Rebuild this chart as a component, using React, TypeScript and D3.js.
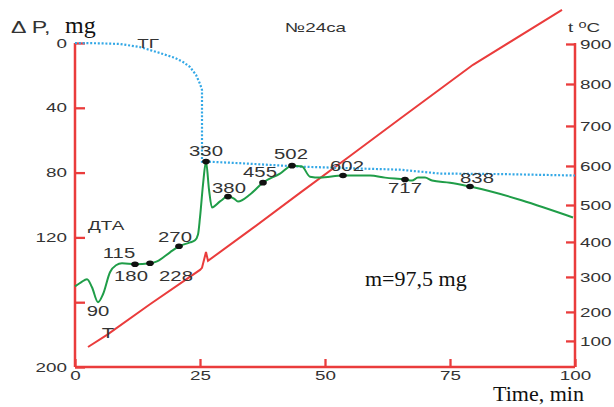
import React, { useRef, useEffect } from "react";
import * as d3 from "d3";

// axes
const timeTicks = [0, 25, 50, 75, 100];
const massTicks = [0, 40, 80, 120, 160, 200];
const tempTicks = [100, 200, 300, 400, 500, 600, 700, 800, 900];
// the t°C axis of the original is not linear: where each tick sits, in mg units of the left axis
const tempTickAt = [183.9, 166, 144.4, 122.8, 100, 75.9, 51.2, 25.3, 0.6];

// ТГ curve (mass loss, mg)
const tgTime = [0, 5, 9, 13, 17, 20, 21.6, 23, 24.2, 25, 25.4, 25.4, 26.2, 33, 45, 57, 65, 69, 73, 85, 100];
const tgMass = [0, 0.2, 0.6, 2.5, 6.2, 9.2, 11.7, 14.8, 19.7, 25.2, 28.9, 73.2, 73.2, 74.2, 76.3, 77.5, 78.2, 79.4, 80.6, 80.9, 81.8];

// ДТА curve (drawn against the mg axis)
const dtaTime = [0, 1.2, 2.4, 3.4, 4.6, 5.6, 7, 8.2, 9.4, 12, 15, 16.4, 19, 20.8, 23, 24, 24.6, 25, 25.6, 26.2, 26.8, 27.4, 29, 30.6, 31.8, 32.6, 35, 37.6, 41, 43.4, 45.4, 47, 49, 53.6, 59, 62, 66, 67.4, 68.6, 70, 71.4, 75, 79, 99.6];
const dtaMass = [150.2, 147.7, 145.8, 150.8, 160, 155.1, 141.5, 137.2, 136, 136.6, 136, 134.8, 129.2, 125.5, 123.1, 121.8, 118.2, 107.7, 87.4, 73.2, 90.5, 101.5, 97.8, 94.8, 96, 97.8, 93.5, 86.2, 80.6, 75.7, 76.3, 82.5, 83.1, 81.8, 81.8, 83.1, 84.3, 84.9, 83.1, 83.1, 84.9, 86.2, 88.6, 107.7];

// T curve (furnace temperature)
const tTime = [2.6, 6.4, 15, 25, 25.4, 26.2, 26.6, 35, 45, 55, 65, 79.6, 97.4];
const tTemp = [79, 121, 222, 320, 326, 371, 346, 432, 531, 625, 717, 848, 985];

// marked effects on ДТА
const peakTime = [12, 15, 20.8, 26.2, 30.6, 37.6, 43.4, 53.6, 66, 79];
const peakMass = [136.6, 136, 125.5, 73.2, 94.8, 86.2, 75.7, 81.8, 84.3, 88.6];
const peakLabel = ["180", "228", "270", "330", "380", "455", "502", "602", "717", "838"];
// effects labelled without a dot
const noteTime = [4.6, 9.4];
const noteMass = [160, 136];
const noteLabel = ["90", "115"];

// label offsets (px) from the point
const peakOff = [[-4, 17], [26, 18], [-4, -4], [0, -6], [1, -4], [-3, -6], [-1, -7], [4, -5], [0, 13], [7, -4]];
const noteOff = [[0, 14], [-3, -5]];

const RED = "#ea3c3c";
const GREEN = "#1f9d48";
const BLUE = "#33a8e6";
const INK = "#333";
const SX = 1.45; // the original lettering is stretched sideways
const SANS = "'Liberation Sans', Arial, sans-serif";
const SERIF = "'Liberation Serif', 'Times New Roman', serif";

function SText({ x, y, children, anchor = "middle", size = 14, fill = INK }: any) {
  return (
    <text transform={`translate(${x},${y}) scale(${SX},1)`} textAnchor={anchor}
      fontSize={size} fontFamily={SANS} fill={fill}>{children}</text>
  );
}

export default function App() {
  const leftRef = useRef<SVGGElement>(null);
  const rightRef = useRef<SVGGElement>(null);
  const bottomRef = useRef<SVGGElement>(null);

  const x = d3.scaleLinear().domain([0, 100]).range([75, 575]);
  const yP = d3.scaleLinear().domain([0, 200]).range([43, 367]);
  const yT = d3.scaleLinear().domain(tempTicks).range(tempTickAt.map((v) => yP(v)));

  useEffect(() => {
    const style = (g: any) => {
      g.select(".domain").remove();
      g.attr("color", INK).attr("font-family", SANS).attr("font-size", 13);
      g.selectAll("line").attr("stroke", RED).attr("stroke-width", 2.3);
      g.selectAll("text").each(function (this: any) {
        const t = d3.select(this);
        const tx = +(t.attr("x") || 0);
        t.attr("x", tx / SX).attr("transform", `scale(${SX},1)`);
      });
    };
    const left = d3.axisLeft(yP).tickValues(massTicks).tickSizeInner(-10).tickSizeOuter(0)
      .tickPadding(8).tickFormat((d: any) => (d === 160 ? "" : String(d)));
    d3.select(leftRef.current).call(left as any).call(style);
    const right = d3.axisRight(yT).tickValues(tempTicks).tickSizeInner(-9).tickSizeOuter(0).tickPadding(5);
    d3.select(rightRef.current).call(right as any).call(style);
    const bottom = d3.axisBottom(x).tickValues(timeTicks).tickSizeInner(-8).tickSizeOuter(0).tickPadding(4);
    d3.select(bottomRef.current).call(bottom as any).call(style);
  }, []);

  const tgLine = d3.line<number>().x((_, i) => x(tgTime[i])).y((_, i) => yP(tgMass[i]));
  const dtaLine = d3.line<number>().x((_, i) => x(dtaTime[i])).y((_, i) => yP(dtaMass[i])).curve(d3.curveMonotoneX);
  const tLine = d3.line<number>().x((_, i) => x(tTime[i])).y((_, i) => yT(tTemp[i]));

  const [x0, x1] = x.range();
  const [y0, y1] = yP.range();

  return (
    <svg width={614} height={407} style={{ position: "absolute", left: 0, top: 0, background: "#fff" }}>
      {/* frame */}
      <line x1={x0} x2={x0} y1={y0} y2={y1} stroke={RED} strokeWidth={2.5} />
      <line x1={x1} x2={x1} y1={y0} y2={y1} stroke={RED} strokeWidth={2.5} />
      <line x1={x0} x2={x1} y1={y1} y2={y1} stroke={RED} strokeWidth={2.5} />
      <g ref={leftRef} transform={`translate(${x0},0)`} />
      <g ref={rightRef} transform={`translate(${x1},0)`} />
      <g ref={bottomRef} transform={`translate(0,${y1})`} />

      <path d={tLine(tTime) || ""} fill="none" stroke={RED} strokeWidth={2} />
      <path d={tgLine(tgTime) || ""} fill="none" stroke={BLUE} strokeWidth={2.2} strokeDasharray="2 1.8" />
      <path d={dtaLine(dtaTime) || ""} fill="none" stroke={GREEN} strokeWidth={2} />

      {peakTime.map((t, i) => (
        <g key={i}>
          <ellipse cx={x(t)} cy={yP(peakMass[i])} rx={3.8} ry={2.8} fill="#111" />
          <SText x={x(t) + peakOff[i][0]} y={yP(peakMass[i]) + peakOff[i][1]}>{peakLabel[i]}</SText>
        </g>
      ))}
      {noteTime.map((t, i) => (
        <SText key={i} x={x(t) + noteOff[i][0]} y={yP(noteMass[i]) + noteOff[i][1]}>{noteLabel[i]}</SText>
      ))}

      {/* captions */}
      <SText x={11} y={33} anchor="start" size={16}>Δ P,</SText>
      <text x={65} y={33} fontFamily={SERIF} fontSize={24} fill="#111">mg</text>
      <SText x={285} y={32} anchor="start" size={13}>№24ca</SText>
      <SText x={568} y={32} anchor="start" size={13}>
        t <tspan dy={-4} fontSize={10}>o</tspan><tspan dy={4}>C</tspan>
      </SText>
      <SText x={x(14.6)} y={yP(3)} size={13}>ТГ</SText>
      <SText x={88} y={yP(115.5)} anchor="start" size={13}>ДТА</SText>
      <SText x={x(6.6)} y={338} size={14}>Т</SText>
      <text x={365} y={286} fontFamily={SERIF} fontSize={22} fill="#111">m=97,5 mg</text>
      <text x={493} y={401} fontFamily={SERIF} fontSize={22} fill="#111">Time, min</text>
    </svg>
  );
}
